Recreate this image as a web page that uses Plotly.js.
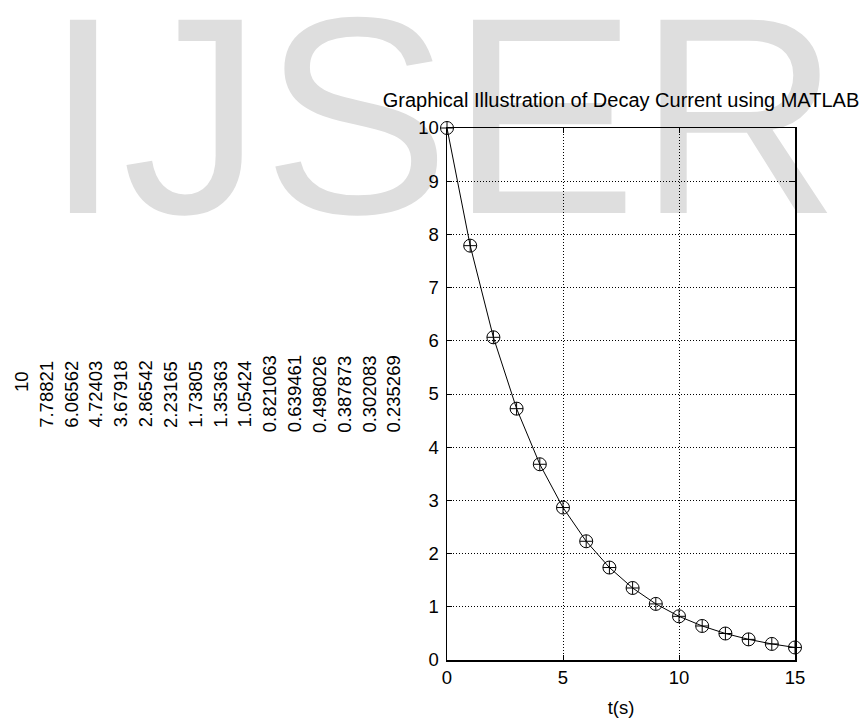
<!DOCTYPE html>
<html><head><meta charset="utf-8">
<script src="https://cdn.plot.ly/plotly-3.0.1.min.js"></script>
<style>
html,body{margin:0;padding:0;background:#fff;}
#wrap{position:relative;width:865px;height:718px;overflow:hidden;}
#wm{position:absolute;left:0;top:0;}
#chart{position:absolute;left:0;top:0;width:865px;height:718px;}
</style>
</head><body>
<div id="wrap">
<svg id="wm" width="865" height="718"><text x="44" y="213" font-family="Liberation Sans, Arial, sans-serif" font-size="281" fill="#dedede">IJSER</text></svg>
<div id="chart"></div>
</div>
<script>
const time = [0, 1, 2, 3, 4, 5, 6, 7, 8, 9, 10, 11, 12, 13, 14, 15];
const current = [10, 7.78821, 6.06562, 4.72403, 3.67918, 2.86542, 2.23165, 1.73805, 1.35363, 1.05424, 0.821063, 0.639461, 0.498026, 0.387873, 0.302083, 0.235269];
const valueLabels = ["10", "7.78821", "6.06562", "4.72403", "3.67918", "2.86542", "2.23165", "1.73805", "1.35363", "1.05424", "0.821063", "0.639461", "0.498026", "0.387873", "0.302083", "0.235269"];
const xTicks = [0, 5, 10, 15];
const yTicks = [0, 1, 2, 3, 4, 5, 6, 7, 8, 9, 10];
const chartTitle = "Graphical Illustration of Decay Current using MATLAB";
const xTitle = "t(s)";

const FONT = "Liberation Sans, Arial, Helvetica, sans-serif";
const L = 447, R = 795, T = 128, B = 660, W = 865, H = 718;
const pw = R - L, ph = B - T;

const annotations = valueLabels.map((s, i) => {
  const px = 21 + 24.83 * i;
  const py = i === 0 ? 382 : 394;
  return {
    text: s, xref: 'paper', yref: 'paper',
    x: (px - L) / pw, y: (B - py) / ph,
    xanchor: 'center', yanchor: 'middle',
    textangle: -90, showarrow: false,
    font: {family: FONT, size: 18.5, color: '#000'}
  };
});

const trace = {
  x: time, y: current, type: 'scatter', mode: 'lines+markers',
  line: {color: '#000', width: 1},
  marker: {symbol: 'circle-cross-open', size: 13, color: '#000', line: {width: 1, color: '#000'}},
  cliponaxis: false, hoverinfo: 'skip'
};

const axisCommon = {
  showline: true, linecolor: '#000', linewidth: 1.5, mirror: 'ticks',
  ticks: 'inside', ticklen: 5, tickwidth: 1, tickcolor: '#000',
  showgrid: true, gridcolor: '#000', gridwidth: 1, griddash: '1px,2px',
  zeroline: false, tickfont: {family: FONT, size: 18.5, color: '#000'},
  fixedrange: true
};

const layout = {
  width: W, height: H,
  margin: {l: L, r: W - R, t: T, b: H - B, pad: 0},
  paper_bgcolor: 'rgba(0,0,0,0)', plot_bgcolor: 'rgba(0,0,0,0)',
  showlegend: false,
  title: {text: chartTitle, xref: 'paper', x: 0.5, xanchor: 'center', yref: 'container', y: 1 - 100 / H, yanchor: 'middle',
          font: {family: FONT, size: 20, color: '#000'}},
  xaxis: Object.assign({}, axisCommon, {range: [0, 15], tickvals: xTicks, ticktext: xTicks.map(String),
          title: {text: xTitle, standoff: 14, font: {family: FONT, size: 18.5, color: '#000'}}}),
  yaxis: Object.assign({}, axisCommon, {range: [0, 10], tickvals: yTicks, ticktext: yTicks.map(String), ticklabelstandoff: 3}),
  annotations: annotations
};

Plotly.newPlot('chart', [trace], layout, {displayModeBar: false, staticPlot: true});
</script>
</body></html>
